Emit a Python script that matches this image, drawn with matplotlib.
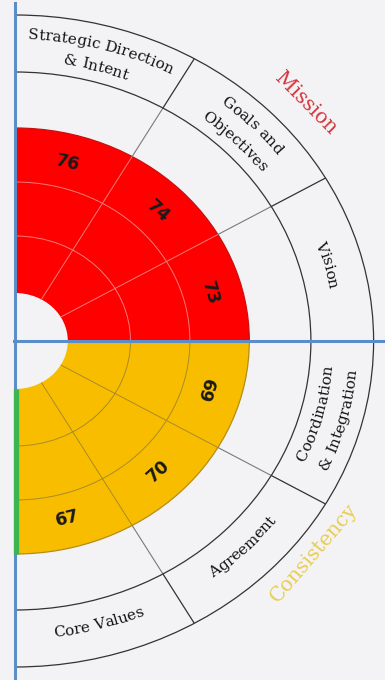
import numpy as np
import matplotlib
matplotlib.use("Agg")
import matplotlib.pyplot as plt
from matplotlib.patches import Wedge, Arc
from matplotlib.font_manager import FontProperties, findfont, get_font

# scores per trait, listed clockwise
mission_labels = ["Strategic Direction\n& Intent", "Goals and\nObjectives", "Vision"]
mission_scores = [76, 74, 73]
consistency_labels = ["Coordination\n& Integration", "Agreement", "Core Values"]
consistency_scores = [69, 70, 67]

XS = 1.1                  # horizontal stretch of the circle
R_HOLE, R_FILL = 48, 213
R_GRID = [105, 159]
R_BAND = (269, 326)
DPI = 100

BG = "#f3f3f5"
BLUE = "#5b8dc9"

fig = plt.figure(figsize=(3.85, 6.8), dpi=DPI, facecolor=BG)
ax = fig.add_axes([0, 0, 1, 1])
ax.set_facecolor(BG)
ax.set_xlim(-15 / XS, 370 / XS)
ax.set_ylim(-339, 341)
ax.axis("off")

label_font = FontProperties(family="DejaVu Serif", size=11)
PHI = np.linspace(-90, 90, 3601)


def tangent_deg(phi, upper):
    p = np.radians(phi)
    if upper:
        return np.degrees(np.arctan2(-np.cos(p), XS * np.sin(p)))
    return np.degrees(np.arctan2(np.cos(p), -XS * np.sin(p)))


def arc_length(r):
    p = np.radians(PHI)
    ds = r * np.sqrt((XS * np.sin(p)) ** 2 + np.cos(p) ** 2)
    return np.concatenate([[0], np.cumsum((ds[1:] + ds[:-1]) / 2 * np.diff(p))])


def advances(text, prop):
    font = get_font(findfont(prop))
    font.set_size(prop.get_size_in_points(), DPI)
    return np.array([font.load_char(ord(c)).linearHoriAdvance / 65536 for c in text])


def curved_text(text, phi_c, r_mid, upper, prop, color="#141414"):
    adv = advances(text, prop)
    centers = np.cumsum(adv) - adv / 2 - adv.sum() / 2
    off = 0.33 * prop.get_size_in_points() * DPI / 72
    r_base = r_mid - off if upper else r_mid + off
    s_tab = arc_length(r_base)
    s_c = np.interp(phi_c, PHI, s_tab)
    for ch, o in zip(text, centers):
        s = s_c - o if upper else s_c + o
        phi = np.interp(s, s_tab, PHI)
        p = np.radians(phi)
        ax.text(r_base * np.cos(p), r_base * np.sin(p), ch,
                rotation=tangent_deg(phi, upper), rotation_mode="anchor",
                ha="center", va="baseline", fontproperties=prop, color=color,
                zorder=6)


def radial(phi, r1, r2, **kw):
    p = np.radians(phi)
    ax.plot([r1 * np.cos(p), r2 * np.cos(p)], [r1 * np.sin(p), r2 * np.sin(p)],
            solid_capstyle="butt", **kw)


def quadrant(scores, labels, start, color, grid, edge):
    upper = start > 0
    step = 90 / len(scores)
    ax.add_patch(Wedge((0, 0), R_FILL, start - 90, start, width=R_FILL - R_HOLE,
                       facecolor=color, edgecolor="none", zorder=1))
    for r in R_GRID:
        ax.add_patch(Arc((0, 0), 2 * r, 2 * r, theta1=start - 90, theta2=start,
                         color=grid, lw=0.7, zorder=2))
    ax.add_patch(Arc((0, 0), 2 * R_FILL, 2 * R_FILL, theta1=start - 90, theta2=start,
                     color=edge, lw=0.9, zorder=2))
    for i, (score, label) in enumerate(zip(scores, labels)):
        mid = start - step * i - step / 2
        if i > 0:
            phi = start - step * i
            radial(phi, R_HOLE, R_FILL, color=grid, lw=0.7, zorder=2)
            radial(phi, R_FILL, R_BAND[0], color="#7a7a7a", lw=0.8, zorder=2)
            radial(phi, R_BAND[0], R_BAND[1], color="#333333", lw=0.9, zorder=2)
        p = np.radians(mid)
        ax.text(184 * np.cos(p), 184 * np.sin(p), str(score),
                rotation=tangent_deg(mid, upper), rotation_mode="anchor",
                ha="center", va="center", fontsize=12.5, fontweight="bold",
                family="DejaVu Sans", color="#1a1a1a", zorder=5)
        lines = label.split("\n")
        if len(lines) == 2:
            radii = [307, 285] if upper else [285, 307]
        else:
            radii = [295] if upper else [293]
        for line, r in zip(lines, radii):
            curved_text(line, mid, r, upper, label_font)


quadrant(mission_scores, mission_labels, 90, "#ff0000", "#f47a7a", "#c81010")
quadrant(consistency_scores, consistency_labels, 0, "#f9bd00", "#a88a2c", "#b48c18")

# outer label band
for r in R_BAND:
    ax.add_patch(Arc((0, 0), 2 * r, 2 * r, theta1=-90, theta2=90,
                     color="#333333", lw=0.9, zorder=2))

# axes of the circle
ax.plot([0, 0], [R_BAND[1] + 12, -339], color=BLUE, lw=2.2, zorder=3)
ax.plot([-1 / XS, 370 / XS], [0, 0], color=BLUE, lw=2.2, zorder=3)
ax.plot([1.0 / XS, 1.0 / XS], [-R_HOLE, -R_FILL], color="#3cb44f", lw=3.8,
        solid_capstyle="butt", zorder=4)

# culture trait titles
for name, phi, r, color in [("Mission", 42, 356, "#d6343a"),
                            ("Consistency", -38, 345, "#e8cd52")]:
    p = np.radians(phi)
    ax.text(r * np.cos(p), r * np.sin(p), name, rotation=tangent_deg(phi, phi > 0),
            rotation_mode="anchor", ha="center", va="center",
            family="DejaVu Serif", fontsize=14.5, color=color, zorder=6)

fig.savefig("out.png", dpi=DPI, facecolor=BG)
